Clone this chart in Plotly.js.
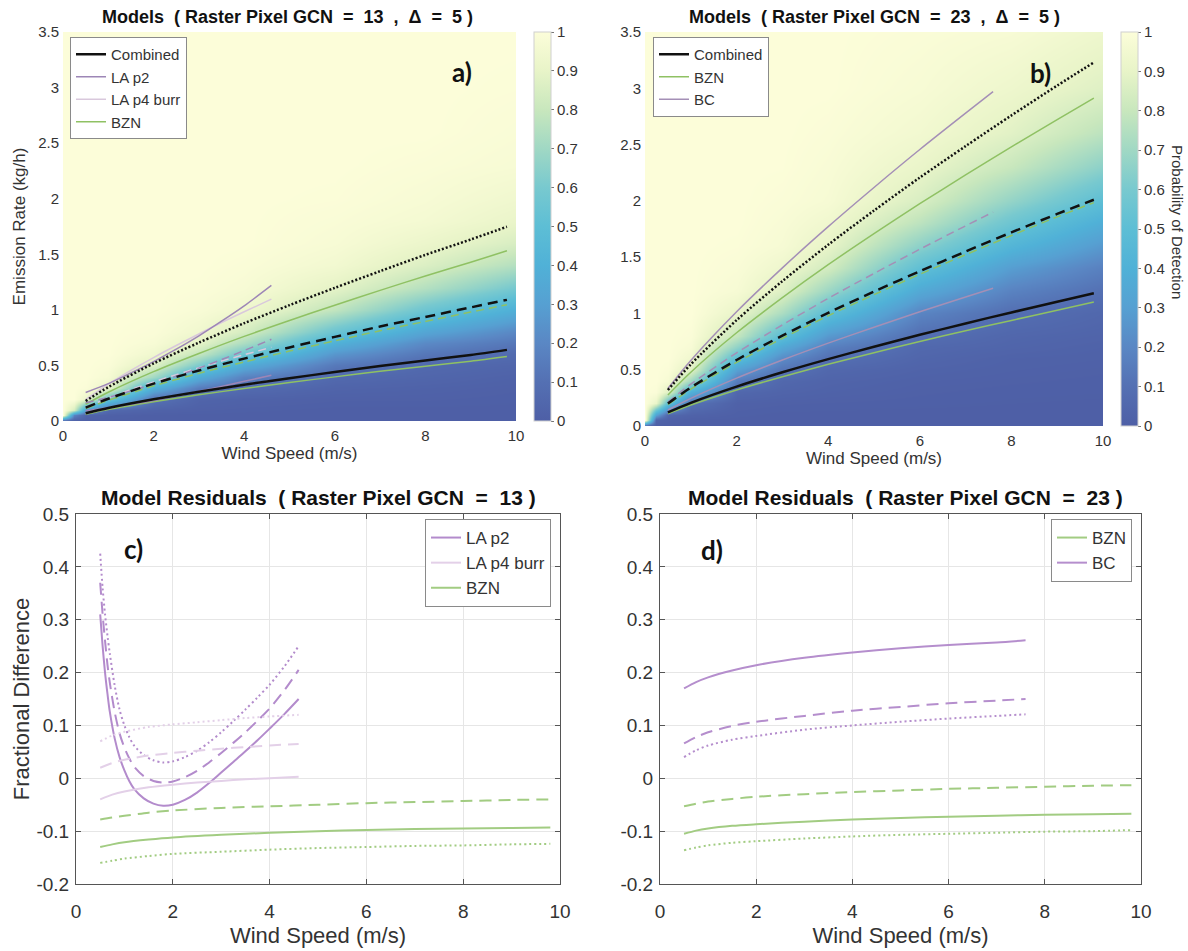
<!DOCTYPE html>
<html><head><meta charset="utf-8">
<script src="https://cdn.plot.ly/plotly-3.0.1.min.js"></script>
<style>html,body{margin:0;padding:0;background:#fff}#chart{width:1188px;height:951px}</style>
</head><body><div id="chart"></div>
<script>
// ---------- Probability-of-detection background grids ----------
const windGrid = [0, 0.25, 0.5, 1, 2, 3, 4, 6, 8, 10];
const emisGrid = [0, 0.05, 0.1, 0.2, 0.3, 0.4, 0.5, 0.6, 0.7, 0.8, 1.0, 1.2, 1.4, 1.6, 1.8, 2.0, 2.3, 2.6, 3.0, 3.5];
const podA = [
  [0, 0, 0, 0, 0, 0, 0, 0, 0, 0],
  [1, 0.18, 0.03, 0.01, 0, 0, 0, 0, 0, 0],
  [1, 0.84, 0.30, 0.06, 0.02, 0.01, 0.005, 0, 0, 0],
  [1, 1, 0.91, 0.55, 0.11, 0.03, 0.02, 0.01, 0.01, 0.005],
  [1, 1, 0.99, 0.90, 0.39, 0.15, 0.07, 0.03, 0.02, 0.01],
  [1, 1, 1, 0.97, 0.70, 0.37, 0.18, 0.06, 0.04, 0.02],
  [1, 1, 1, 0.99, 0.87, 0.61, 0.37, 0.14, 0.06, 0.04],
  [1, 1, 1, 1, 0.94, 0.79, 0.57, 0.26, 0.13, 0.07],
  [1, 1, 1, 1, 0.975, 0.89, 0.73, 0.40, 0.21, 0.13],
  [1, 1, 1, 1, 0.99, 0.94, 0.84, 0.55, 0.33, 0.20],
  [1, 1, 1, 1, 1, 0.98, 0.94, 0.78, 0.56, 0.39],
  [1, 1, 1, 1, 1, 0.995, 0.975, 0.89, 0.75, 0.59],
  [1, 1, 1, 1, 1, 1, 0.99, 0.95, 0.86, 0.75],
  [1, 1, 1, 1, 1, 1, 1, 0.975, 0.92, 0.85],
  [1, 1, 1, 1, 1, 1, 1, 0.985, 0.96, 0.91],
  [1, 1, 1, 1, 1, 1, 1, 0.995, 0.975, 0.94],
  [1, 1, 1, 1, 1, 1, 1, 1, 0.99, 0.975],
  [1, 1, 1, 1, 1, 1, 1, 1, 1, 0.985],
  [1, 1, 1, 1, 1, 1, 1, 1, 1, 0.995],
  [1, 1, 1, 1, 1, 1, 1, 1, 1, 1]
];
const podB = [
  [0, 0, 0, 0, 0, 0, 0, 0, 0, 0],
  [1, 0.03, 0.01, 0, 0, 0, 0, 0, 0, 0],
  [1, 0.30, 0.05, 0.02, 0.005, 0, 0, 0, 0, 0],
  [1, 0.91, 0.50, 0.11, 0.015, 0.01, 0.008, 0.005, 0.003, 0.002],
  [1, 0.99, 0.87, 0.39, 0.05, 0.03, 0.02, 0.01, 0.005, 0.004],
  [1, 1, 0.97, 0.70, 0.15, 0.05, 0.03, 0.015, 0.01, 0.006],
  [1, 1, 0.99, 0.87, 0.30, 0.12, 0.05, 0.025, 0.015, 0.01],
  [1, 1, 1, 0.94, 0.50, 0.22, 0.10, 0.04, 0.02, 0.015],
  [1, 1, 1, 0.975, 0.66, 0.35, 0.17, 0.055, 0.035, 0.02],
  [1, 1, 1, 0.99, 0.79, 0.50, 0.27, 0.09, 0.045, 0.03],
  [1, 1, 1, 1, 0.91, 0.73, 0.50, 0.19, 0.09, 0.05],
  [1, 1, 1, 1, 0.97, 0.87, 0.69, 0.35, 0.18, 0.10],
  [1, 1, 1, 1, 0.985, 0.93, 0.83, 0.51, 0.29, 0.17],
  [1, 1, 1, 1, 0.995, 0.97, 0.90, 0.65, 0.43, 0.27],
  [1, 1, 1, 1, 1, 0.98, 0.94, 0.77, 0.56, 0.38],
  [1, 1, 1, 1, 1, 0.99, 0.97, 0.85, 0.67, 0.50],
  [1, 1, 1, 1, 1, 0.998, 0.98, 0.91, 0.80, 0.65],
  [1, 1, 1, 1, 1, 1, 0.99, 0.95, 0.88, 0.77],
  [1, 1, 1, 1, 1, 1, 1, 0.975, 0.93, 0.87],
  [1, 1, 1, 1, 1, 1, 1, 0.99, 0.975, 0.93]
];

// ---------- Panel a: model curves (kg/h) ----------
const windA = [0.5, 1, 2, 3, 4, 5, 6, 7, 8, 9, 9.8];
const combA_lo  = [0.07, 0.117, 0.195, 0.264, 0.326, 0.385, 0.44, 0.494, 0.545, 0.594, 0.64];
const combA_mid = [0.12, 0.20, 0.336, 0.454, 0.561, 0.662, 0.757, 0.85, 0.936, 1.022, 1.09];
const combA_hi  = [0.18, 0.305, 0.518, 0.705, 0.88, 1.042, 1.198, 1.348, 1.495, 1.633, 1.748];
const bznA_lo  = [0.061, 0.103, 0.173, 0.236, 0.292, 0.347, 0.397, 0.447, 0.493, 0.538, 0.58];
const bznA_mid = [0.111, 0.186, 0.316, 0.429, 0.531, 0.629, 0.721, 0.812, 0.896, 0.98, 1.046];
const bznA_hi  = [0.151, 0.259, 0.444, 0.607, 0.761, 0.904, 1.042, 1.175, 1.305, 1.429, 1.531];
const windLA = [0.5, 1, 1.5, 2, 2.5, 3, 3.5, 4, 4.6];
const lap2A_lo  = [0.092, 0.119, 0.151, 0.185, 0.224, 0.267, 0.311, 0.357, 0.412];
const lap2A_mid = [0.164, 0.212, 0.271, 0.334, 0.402, 0.476, 0.552, 0.634, 0.735];
const lap2A_hi  = [0.257, 0.336, 0.433, 0.535, 0.646, 0.766, 0.898, 1.036, 1.22];
const lap4A_lo  = [0.067, 0.114, 0.155, 0.193, 0.228, 0.263, 0.295, 0.326, 0.362];
const lap4A_mid = [0.122, 0.207, 0.283, 0.352, 0.417, 0.479, 0.539, 0.596, 0.663];
const lap4A_hi  = [0.193, 0.332, 0.456, 0.571, 0.679, 0.783, 0.886, 0.983, 1.096];

// ---------- Panel b ----------
const windB = [0.5, 1, 2, 3, 4, 5, 6, 7, 8, 9, 9.8];
const combB_lo  = [0.121, 0.206, 0.35, 0.477, 0.594, 0.704, 0.81, 0.911, 1.009, 1.104, 1.18];
const combB_mid = [0.20, 0.342, 0.586, 0.803, 1.005, 1.194, 1.375, 1.55, 1.72, 1.884, 2.01];
const combB_hi  = [0.32, 0.548, 0.94, 1.287, 1.61, 1.914, 2.207, 2.486, 2.759, 3.024, 3.23];
const bznB_lo  = [0.108, 0.186, 0.32, 0.438, 0.548, 0.651, 0.751, 0.846, 0.938, 1.029, 1.101];
const bznB_mid = [0.189, 0.327, 0.565, 0.779, 0.979, 1.167, 1.348, 1.522, 1.692, 1.858, 1.984];
const bznB_hi  = [0.276, 0.478, 0.828, 1.14, 1.433, 1.709, 1.975, 2.23, 2.48, 2.722, 2.913];
const windBC = [0.5, 1, 2, 3, 4, 5, 6, 7, 7.6];
const bcB_lo  = [0.142, 0.245, 0.425, 0.586, 0.736, 0.877, 1.015, 1.146, 1.223];
const bcB_mid = [0.213, 0.372, 0.649, 0.898, 1.134, 1.355, 1.57, 1.778, 1.90];
const bcB_hi  = [0.333, 0.582, 1.015, 1.405, 1.771, 2.119, 2.456, 2.779, 2.97];

// ---------- Panel c: residuals GCN 13 ----------
const windResLA = [0.5, 0.55, 0.6, 0.65, 0.7, 0.8, 0.9, 1.0, 1.1, 1.2, 1.4, 1.6, 1.8, 2.0, 2.25, 2.5, 2.75, 3.0, 3.25, 3.5, 3.75, 4.0, 4.3, 4.6];
const resLap2_lo  = [0.31, 0.25, 0.20, 0.16, 0.125, 0.075, 0.04, 0.015, -0.005, -0.02, -0.038, -0.048, -0.052, -0.05, -0.041, -0.027, -0.009, 0.011, 0.031, 0.051, 0.072, 0.094, 0.121, 0.15];
const resLap2_mid = [0.37, 0.31, 0.26, 0.215, 0.18, 0.125, 0.085, 0.058, 0.038, 0.022, 0.004, -0.005, -0.008, -0.006, 0.002, 0.014, 0.03, 0.048, 0.067, 0.087, 0.109, 0.132, 0.166, 0.205];
const resLap2_hi  = [0.425, 0.36, 0.31, 0.27, 0.235, 0.175, 0.13, 0.10, 0.078, 0.062, 0.044, 0.034, 0.03, 0.032, 0.04, 0.052, 0.068, 0.087, 0.108, 0.13, 0.153, 0.177, 0.211, 0.25];
const windResP4 = [0.5, 0.75, 1, 1.5, 2, 2.5, 3, 3.5, 4, 4.6];
const resLap4_lo  = [-0.04, -0.031, -0.025, -0.017, -0.012, -0.008, -0.005, -0.002, 0.0, 0.003];
const resLap4_mid = [0.02, 0.029, 0.035, 0.043, 0.048, 0.052, 0.056, 0.059, 0.062, 0.065];
const resLap4_hi  = [0.07, 0.081, 0.088, 0.097, 0.102, 0.106, 0.11, 0.114, 0.117, 0.12];
const windResBZN = [0.5, 0.75, 1, 1.5, 2, 3, 4, 5, 6, 7, 8, 9, 9.8];
const resBznC_lo  = [-0.13, -0.125, -0.121, -0.116, -0.112, -0.107, -0.103, -0.10, -0.098, -0.096, -0.095, -0.094, -0.093];
const resBznC_mid = [-0.078, -0.074, -0.071, -0.065, -0.061, -0.056, -0.053, -0.05, -0.047, -0.045, -0.043, -0.041, -0.04];
const resBznC_hi  = [-0.16, -0.156, -0.152, -0.147, -0.143, -0.139, -0.135, -0.132, -0.13, -0.128, -0.127, -0.125, -0.124];

// ---------- Panel d: residuals GCN 23 ----------
const resBznD_lo  = [-0.105, -0.099, -0.095, -0.09, -0.087, -0.082, -0.078, -0.075, -0.073, -0.071, -0.069, -0.068, -0.067];
const resBznD_mid = [-0.053, -0.048, -0.044, -0.039, -0.035, -0.03, -0.026, -0.023, -0.02, -0.018, -0.016, -0.014, -0.013];
const resBznD_hi  = [-0.136, -0.131, -0.127, -0.122, -0.119, -0.114, -0.11, -0.107, -0.105, -0.103, -0.101, -0.10, -0.098];
const windResBC = [0.5, 0.75, 1, 1.5, 2, 3, 4, 5, 6, 7, 7.6];
const resBc_lo  = [0.17, 0.182, 0.191, 0.204, 0.214, 0.228, 0.238, 0.246, 0.252, 0.257, 0.261];
const resBc_mid = [0.066, 0.078, 0.087, 0.099, 0.107, 0.118, 0.128, 0.135, 0.142, 0.147, 0.15];
const resBc_hi  = [0.04, 0.053, 0.062, 0.073, 0.08, 0.092, 0.10, 0.107, 0.113, 0.118, 0.121];

// ---------- tick labels ----------
const windTicks = [0, 2, 4, 6, 8, 10];
const emisTicks = [0, 0.5, 1, 1.5, 2, 2.5, 3, 3.5];
const emisTickText = ['0', '0.5', '1', '1.5', '2', '2.5', '3', '3.5'];
const resTicks = [-0.2, -0.1, 0, 0.1, 0.2, 0.3, 0.4, 0.5];
const resTickText = ['-0.2', '-0.1', '0', '0.1', '0.2', '0.3', '0.4', '0.5'];
const podTicks = [0, 0.1, 0.2, 0.3, 0.4, 0.5, 0.6, 0.7, 0.8, 0.9, 1];

// ---------- styling ----------
const FONT = 'Liberation Sans, Arial, Helvetica, sans-serif';
const TXT = '#333333';
const W = 1188, H = 951;
const px = v => v / W, py = v => 1 - v / H;
const cscale = [[0,'#4e5fa6'],[0.1,'#5470b3'],[0.2,'#5a87c4'],[0.3,'#56a0d2'],[0.4,'#50b1d7'],[0.5,'#5dbed5'],[0.6,'#78c9cf'],[0.7,'#a0d8c4'],[0.8,'#c8e7bd'],[0.9,'#e8f4c8'],[1,'#fcfdd9']];

const C_BLACK = '#111111';
const C_BZN_T = '#8fc163', C_LAP2_T = '#9d86b6', C_LAP4_T = '#d9c8dc', C_BC_T = '#a48fb6';
const C_BZN_B = '#a2cc82', C_LAP2_B = '#b38bcc', C_LAP4_B = '#e3d0e8', C_BC_B = '#b58ecd';

function ln(x, y, xa, ya, color, width, dash, name, legend, show, rank) {
  return {type: 'scatter', mode: 'lines', x: x, y: y, xaxis: xa, yaxis: ya, name: name,
    legend: legend, showlegend: !!show, legendrank: rank || 1000,
    line: {color: color, width: width, dash: dash, shape: 'spline', smoothing: 0.8}, hoverinfo: 'skip'};
}
function cbar(xLeft, yBottomPx, yTopPx) {
  return {x: px(xLeft), xanchor: 'left', xpad: 0, ypad: 0, y: py(yBottomPx), yanchor: 'bottom',
    len: (yBottomPx - yTopPx) / H, lenmode: 'fraction', thickness: 17, thicknessmode: 'pixels',
    outlinewidth: 1, outlinecolor: '#d0d0d0', tickvals: podTicks, ticks: 'outside', ticklen: 3,
    tickcolor: '#777', tickfont: {family: FONT, size: 15, color: TXT}};
}

const TD = '10px,6px', TO = '2px,2px', CD = '8px,5px';
const BD = '12px,7px', BO = '2px,3px';

const traces = [
  {type: 'heatmap', x: windGrid, y: emisGrid, z: podA, zmin: 0, zmax: 1, zsmooth: 'best',
   colorscale: cscale, xaxis: 'x', yaxis: 'y', hoverinfo: 'skip', colorbar: cbar(534, 421, 32)},
  {type: 'heatmap', x: windGrid, y: emisGrid, z: podB, zmin: 0, zmax: 1, zsmooth: 'best',
   colorscale: cscale, xaxis: 'x2', yaxis: 'y2', hoverinfo: 'skip', colorbar: cbar(1121, 426, 32)},
  // panel a
  ln(windA, bznA_lo, 'x', 'y', C_BZN_T, 1.5, 'solid', 'BZN', 'legend', true, 4),
  ln(windA, bznA_mid, 'x', 'y', C_BZN_T, 1.5, CD, 'BZN', 'legend'),
  ln(windA, bznA_hi, 'x', 'y', C_BZN_T, 1.5, 'solid', 'BZN', 'legend'),
  ln(windLA, lap4A_lo, 'x', 'y', C_LAP4_T, 1.5, 'solid', 'LA p4 burr', 'legend', true, 3),
  ln(windLA, lap4A_mid, 'x', 'y', C_LAP4_T, 1.5, CD, 'LA p4 burr', 'legend'),
  ln(windLA, lap4A_hi, 'x', 'y', C_LAP4_T, 1.5, 'solid', 'LA p4 burr', 'legend'),
  ln(windLA, lap2A_lo, 'x', 'y', C_LAP2_T, 1.5, 'solid', 'LA p2', 'legend', true, 2),
  ln(windLA, lap2A_mid, 'x', 'y', C_LAP2_T, 1.5, CD, 'LA p2', 'legend'),
  ln(windLA, lap2A_hi, 'x', 'y', C_LAP2_T, 1.5, 'solid', 'LA p2', 'legend'),
  ln(windA, combA_lo, 'x', 'y', C_BLACK, 2.5, 'solid', 'Combined', 'legend', true, 1),
  ln(windA, combA_mid, 'x', 'y', C_BLACK, 2.5, TD, 'Combined', 'legend'),
  ln(windA, combA_hi, 'x', 'y', C_BLACK, 2.5, TO, 'Combined', 'legend'),
  // panel b
  ln(windB, bznB_lo, 'x2', 'y2', C_BZN_T, 1.5, 'solid', 'BZN', 'legend2', true, 2),
  ln(windB, bznB_mid, 'x2', 'y2', C_BZN_T, 1.5, CD, 'BZN', 'legend2'),
  ln(windB, bznB_hi, 'x2', 'y2', C_BZN_T, 1.5, 'solid', 'BZN', 'legend2'),
  ln(windBC, bcB_lo, 'x2', 'y2', C_BC_T, 1.5, 'solid', 'BC', 'legend2', true, 3),
  ln(windBC, bcB_mid, 'x2', 'y2', C_BC_T, 1.5, CD, 'BC', 'legend2'),
  ln(windBC, bcB_hi, 'x2', 'y2', C_BC_T, 1.5, 'solid', 'BC', 'legend2'),
  ln(windB, combB_lo, 'x2', 'y2', C_BLACK, 2.5, 'solid', 'Combined', 'legend2', true, 1),
  ln(windB, combB_mid, 'x2', 'y2', C_BLACK, 2.5, TD, 'Combined', 'legend2'),
  ln(windB, combB_hi, 'x2', 'y2', C_BLACK, 2.5, TO, 'Combined', 'legend2'),
  // panel c
  ln(windResLA, resLap2_lo, 'x3', 'y3', C_LAP2_B, 2, 'solid', 'LA p2', 'legend3', true, 1),
  ln(windResLA, resLap2_mid, 'x3', 'y3', C_LAP2_B, 2, BD, 'LA p2', 'legend3'),
  ln(windResLA, resLap2_hi, 'x3', 'y3', C_LAP2_B, 2, BO, 'LA p2', 'legend3'),
  ln(windResP4, resLap4_lo, 'x3', 'y3', C_LAP4_B, 2, 'solid', 'LA p4 burr', 'legend3', true, 2),
  ln(windResP4, resLap4_mid, 'x3', 'y3', C_LAP4_B, 2, BD, 'LA p4 burr', 'legend3'),
  ln(windResP4, resLap4_hi, 'x3', 'y3', C_LAP4_B, 2, BO, 'LA p4 burr', 'legend3'),
  ln(windResBZN, resBznC_lo, 'x3', 'y3', C_BZN_B, 2, 'solid', 'BZN', 'legend3', true, 3),
  ln(windResBZN, resBznC_mid, 'x3', 'y3', C_BZN_B, 2, BD, 'BZN', 'legend3'),
  ln(windResBZN, resBznC_hi, 'x3', 'y3', C_BZN_B, 2, BO, 'BZN', 'legend3'),
  // panel d
  ln(windResBZN, resBznD_lo, 'x4', 'y4', C_BZN_B, 2, 'solid', 'BZN', 'legend4', true, 1),
  ln(windResBZN, resBznD_mid, 'x4', 'y4', C_BZN_B, 2, BD, 'BZN', 'legend4'),
  ln(windResBZN, resBznD_hi, 'x4', 'y4', C_BZN_B, 2, BO, 'BZN', 'legend4'),
  ln(windResBC, resBc_lo, 'x4', 'y4', C_BC_B, 2, 'solid', 'BC', 'legend4', true, 2),
  ln(windResBC, resBc_mid, 'x4', 'y4', C_BC_B, 2, BD, 'BC', 'legend4'),
  ln(windResBC, resBc_hi, 'x4', 'y4', C_BC_B, 2, BO, 'BC', 'legend4')
];

function topX(domain, anchor, titleText) {
  return {domain: domain, anchor: anchor, range: [0, 10], tickvals: windTicks, showgrid: false, zeroline: false,
    showline: false, ticks: '', ticklabelstandoff: 4, tickfont: {family: FONT, size: 15, color: TXT},
    title: {text: titleText, font: {family: FONT, size: 17, color: TXT}, standoff: 2}};
}
function topY(domain, anchor, titleText) {
  return {domain: domain, anchor: anchor, range: [0, 3.5], tickvals: emisTicks, ticktext: emisTickText,
    showgrid: false, zeroline: false, showline: false, ticks: '', ticklabelstandoff: 3,
    tickfont: {family: FONT, size: 15, color: TXT},
    title: {text: titleText, font: {family: FONT, size: 17, color: TXT}, standoff: 8}};
}
function botX(domain, anchor) {
  return {domain: domain, anchor: anchor, range: [0, 10], tickvals: windTicks, showgrid: true, gridcolor: '#e6e6e6',
    zeroline: false, showline: true, linecolor: '#555', linewidth: 1, mirror: 'allticks', ticks: 'inside',
    ticklen: 5, tickcolor: '#555', ticklabelstandoff: 10, tickfont: {family: FONT, size: 19, color: TXT},
    title: {text: 'Wind Speed (m/s)', font: {family: FONT, size: 22, color: TXT}, standoff: 6}};
}
function botY(domain, anchor, titleText) {
  return {domain: domain, anchor: anchor, range: [-0.2, 0.5], tickvals: resTicks, ticktext: resTickText,
    showgrid: true, gridcolor: '#e6e6e6', zeroline: false, showline: true, linecolor: '#555', linewidth: 1,
    mirror: 'allticks', ticks: 'inside', ticklen: 5, tickcolor: '#555', ticklabelstandoff: 2,
    tickfont: {family: FONT, size: 19, color: TXT},
    title: {text: titleText, font: {family: FONT, size: 22, color: TXT}, standoff: 0}};
}
function leg(x, y, xanchor, size) {
  return {x: x, y: y, xanchor: xanchor, yanchor: 'top', bgcolor: '#ffffff', bordercolor: '#8a8a8a', borderwidth: 1,
    font: {family: FONT, size: size, color: TXT}, tracegroupgap: 0, itemwidth: 30, traceorder: 'normal'};
}
const NB = '\u00a0';
const sp2 = NB + NB;
function ann(text, x, y, size, bold, extra) {
  return Object.assign({xref: 'paper', yref: 'paper', x: px(x), y: py(y), xanchor: 'center', yanchor: 'middle',
    showarrow: false, text: bold ? '<b>' + text + '</b>' : text, font: {family: FONT, size: size, color: '#111'}}, extra || {});
}
const LBL = {family: 'Lato, Open Sans, sans-serif', size: 26, color: '#111'};

const layout = {
  width: W, height: H, margin: {l: 0, r: 0, t: 0, b: 0}, paper_bgcolor: '#ffffff', plot_bgcolor: '#ffffff',
  font: {family: FONT, color: TXT},
  xaxis: topX([px(63), px(516)], 'y', 'Wind Speed (m/s)'),
  yaxis: topY([py(421), py(32)], 'x', 'Emission Rate (kg/h)'),
  xaxis2: topX([px(645), px(1103)], 'y2', 'Wind Speed (m/s)'),
  yaxis2: topY([py(426), py(32)], 'x2', ''),
  xaxis3: botX([px(76), px(560)], 'y3'),
  yaxis3: botY([py(884), py(514)], 'x3', 'Fractional Difference'),
  xaxis4: botX([px(660), px(1141)], 'y4'),
  yaxis4: botY([py(884), py(514)], 'x4', ''),
  legend: leg(px(70), py(37), 'left', 15),
  legend2: leg(px(653), py(37), 'left', 15),
  legend3: leg(px(551), py(519), 'right', 17),
  legend4: leg(px(1132), py(519), 'right', 17),
  annotations: [
    ann('Models' + sp2 + '( Raster Pixel GCN' + sp2 + '=' + sp2 + '13' + sp2 + ',' + sp2 + 'Δ' + sp2 + '=' + sp2 + '5 )', 287, 17, 18, true),
    ann('Models' + sp2 + '( Raster Pixel GCN' + sp2 + '=' + sp2 + '23' + sp2 + ',' + sp2 + 'Δ' + sp2 + '=' + sp2 + '5 )', 874, 17, 18, true),
    ann('Model Residuals' + sp2 + '( Raster Pixel GCN' + sp2 + '=' + sp2 + '13 )', 318, 498, 21, true),
    ann('Model Residuals' + sp2 + '( Raster Pixel GCN' + sp2 + '=' + sp2 + '23 )', 905, 498, 21, true),
    ann('a)', 462, 72, 26, true, {font: LBL}),
    ann('b)', 1040, 73, 26, true, {font: LBL}),
    ann('c)', 133, 549, 26, true, {font: LBL}),
    ann('d)', 712, 550, 26, true, {font: LBL}),
    ann('Probability of Detection', 1178, 222, 15, false, {textangle: 90, font: {family: FONT, size: 15, color: TXT}})
  ]
};

Plotly.newPlot('chart', traces, layout, {displayModeBar: false, staticPlot: true});
</script></body></html>
